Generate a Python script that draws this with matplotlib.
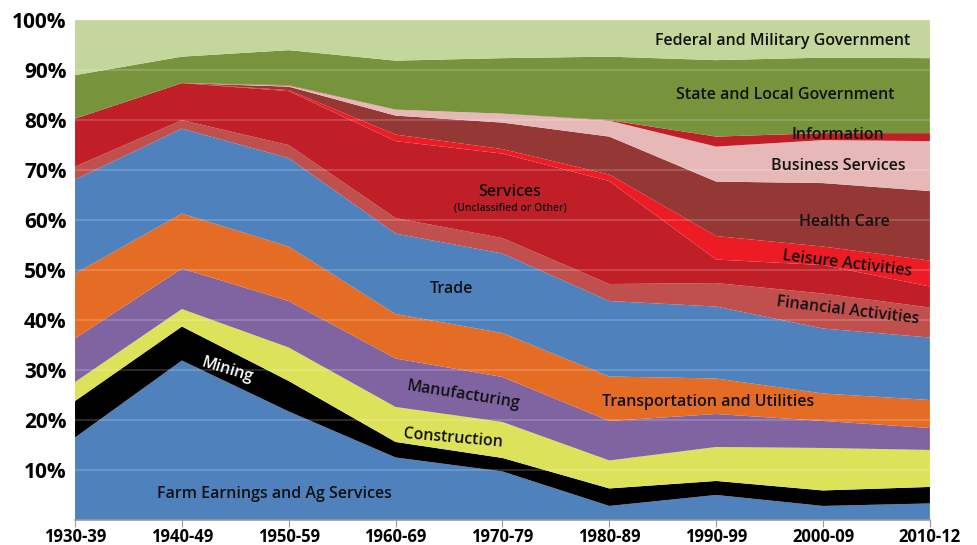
import matplotlib
matplotlib.use("Agg")
import matplotlib.pyplot as plt
import numpy as np

plt.rcParams['font.family'] = ['Open Sans', 'DejaVu Sans']

# decades
periods = ['1930-39', '1940-49', '1950-59', '1960-69', '1970-79',
           '1980-89', '1990-99', '2000-09', '2010-12']

# cumulative tops (percent), bottom layer first
farm_top     = [16.5, 31.9, 21.7, 12.5,  9.7,  2.8,  5.0,  2.8,  3.3]
mining_top   = [23.8, 38.7, 27.8, 15.6, 12.4,  6.3,  7.8,  5.9,  6.6]
constr_top   = [27.6, 42.2, 34.5, 22.6, 19.6, 11.9, 14.6, 14.4, 14.0]
manuf_top    = [36.3, 50.3, 43.8, 32.3, 28.6, 19.8, 21.2, 19.8, 18.4]
transp_top   = [49.3, 61.3, 54.7, 41.2, 37.4, 28.7, 28.3, 25.3, 24.0]
trade_top    = [68.1, 78.3, 72.4, 57.3, 53.3, 43.8, 42.7, 38.3, 36.5]
fin_top      = [70.7, 80.0, 75.0, 60.4, 56.4, 47.2, 47.4, 45.3, 42.5]
serv_top     = [80.3, 87.4, 85.8, 75.8, 73.3, 67.8, 52.1, 51.0, 46.7]
leisure_top  = [80.3, 87.4, 86.0, 77.1, 74.2, 69.1, 56.8, 54.7, 51.9]
health_top   = [80.3, 87.4, 86.7, 80.9, 79.5, 76.7, 67.7, 67.4, 65.8]
business_top = [80.3, 87.4, 86.9, 82.1, 81.3, 79.9, 74.7, 76.0, 75.8]
info_top     = [80.3, 87.4, 87.0, 82.1, 81.3, 80.0, 76.7, 77.4, 77.4]
state_top    = [89.0, 92.7, 94.0, 91.9, 92.4, 92.7, 92.0, 92.5, 92.4]
federal_top  = [100, 100, 100, 100, 100, 100, 100, 100, 100]

tops = [farm_top, mining_top, constr_top, manuf_top, transp_top, trade_top,
        fin_top, serv_top, leisure_top, health_top, business_top, info_top,
        state_top, federal_top]
colors = ['#4F81BD', '#000000', '#DCE35B', '#8064A2', '#E46C24', '#4F81BD',
          '#C0504D', '#C01F27', '#ED1C24', '#953735', '#E6B9B8', '#C01F27',
          '#77933C', '#C3D69B']

tops = np.array(tops)
shares = np.diff(np.vstack([np.zeros(len(periods)), tops]), axis=0)
x = np.arange(len(periods))

fig = plt.figure(figsize=(9.77, 5.45), dpi=100)
ax = fig.add_axes([0.0768, 0.046, 0.875, 0.917])
ax.stackplot(x, shares, colors=colors, linewidth=0)

for v in range(10, 100, 10):
    ax.axhline(v, color='white', alpha=0.2, lw=1.2, zorder=3)

ax.set_xlim(0, len(periods) - 1)
ax.set_ylim(0, 100)
ax.set_xticks(x)
ax.set_xticklabels(periods, fontsize=12, fontweight='bold')
ax.set_yticks(range(10, 101, 10))
ax.set_yticklabels([f'{v}%' for v in range(10, 101, 10)], fontsize=15, fontweight='bold')
ax.tick_params(axis='y', length=0, pad=6)
ax.tick_params(axis='x', length=5, color='#999999', pad=0.5)
for s in ['left', 'right', 'top']:
    ax.spines[s].set_visible(False)
ax.spines['bottom'].set_color('#999999')
ax.spines['bottom'].set_linewidth(1.2)

kw = dict(fontsize=11.5, fontweight='semibold', ha='center', va='center',
          color='#111111', zorder=5)
ax.text(6.62, 95.8, 'Federal and Military Government', **kw)
ax.text(6.65, 85.0, 'State and Local Government', **kw)
ax.text(7.14, 77.0, 'Information', **kw)
ax.text(7.14, 70.9, 'Business Services', **kw)
ax.text(7.20, 59.7, 'Health Care', **kw)
ax.text(7.23, 51.3, 'Leisure Activities', rotation=-7, **kw)
ax.text(7.23, 41.9, 'Financial Activities', rotation=-7, **kw)
ax.text(4.07, 65.7, 'Services', **kw)
ax.text(4.07, 62.3, '(Unclassified or Other)', fontsize=7.5, fontweight='semibold',
        ha='center', va='center', color='#111111', zorder=5)
ax.text(3.52, 46.3, 'Trade', **kw)
ax.text(5.92, 23.6, 'Transportation and Utilities', **kw)
ax.text(3.63, 24.9, 'Manufacturing', rotation=-9, **kw)
ax.text(3.54, 16.4, 'Construction', rotation=-5, **kw)
kw['color'] = 'white'
ax.text(1.42, 29.9, 'Mining', rotation=-17, **kw)
kw['color'] = '#111111'
ax.text(1.87, 5.2, 'Farm Earnings and Ag Services', **kw)

fig.savefig('out.png', dpi=100)
